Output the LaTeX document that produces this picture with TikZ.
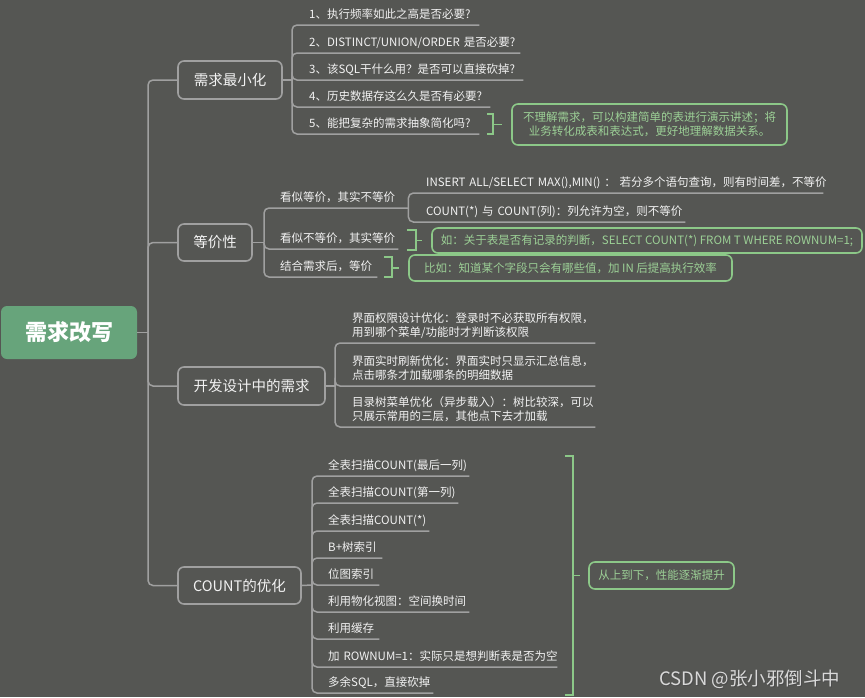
\documentclass[tikz,border=0pt]{standalone}
\usepackage{fontspec}
\setmainfont{Noto Sans CJK SC}
\usetikzlibrary{calc}
\definecolor{bg}{HTML}{555653}
\definecolor{ln}{HTML}{A0A0A0}
\definecolor{tx}{HTML}{F2F2F2}
\definecolor{gr}{HTML}{8CC888}
\definecolor{grt}{HTML}{9CD096}
\definecolor{rootc}{HTML}{67A47B}
\begin{document}
\begin{tikzpicture}[x=1pt,y=-1pt,
  conn/.style={draw=ln, line width=1.5pt, rounded corners=5pt},
  mainbox/.style={draw=ln, line width=1.6pt, rounded corners=6pt, fill=bg, text=tx, font=\fontsize{14.5}{17}\selectfont, inner sep=0pt},
  rootbox/.style={fill=rootc, rounded corners=6pt, text=white, font=\fontsize{22}{26}\selectfont\bfseries, inner sep=0pt, minimum width=136pt, minimum height=53pt},
  itm/.style={anchor=south west, inner xsep=0pt, inner ysep=6.5pt, text depth=0pt, align=left, text=tx, font=\fontsize{11.5}{14}\selectfont},
  twoline/.style={text depth=14pt},
  notebox/.style={draw=gr, line width=1.6pt, rounded corners=6pt, text=grt, align=center, inner sep=0pt, font=\fontsize{11.5}{14.5}\selectfont},
  brk/.style={draw=gr, line width=1.6pt},
]
\useasboundingbox (0,0) rectangle (865,697);
\fill[bg] (0,0) rectangle (865,697);

% root
\node[rootbox] (root) at (69,332.5) {需求改写};
\coordinate (T) at (148,332.5);
\draw[conn] (root.east) -- (T);

% main branches
\node[mainbox, minimum width=104pt, minimum height=38pt] (m1) at (230,80) {需求最小化};
\node[mainbox, minimum width=74pt, minimum height=37pt] (m2) at (215,242.5) {等价性};
\node[mainbox, minimum width=147pt, minimum height=38pt] (m3) at (251.5,386) {开发设计中的需求};
\node[mainbox, minimum width=123pt, minimum height=37pt] (m4) at (239.5,585.5) {COUNT的优化};
\foreach \m in {m1,m2,m3,m4} \draw[conn] (T) |- (\m.west);

% ---- 需求最小化
\coordinate (s1) at (292,80);
\draw[conn] (m1.east) -- (s1);
\node[itm, text width=170pt] (i1) at (309,25) {1、执行频率如此之高是否必要?};
\node[itm, text width=211pt] (i2) at (309,53) {2、DISTINCT/UNION/ORDER 是否必要?};
\node[itm, text width=214pt] (i3) at (309,80) {3、该SQL干什么用？是否可以直接砍掉?};
\node[itm, text width=181pt] (i4) at (309,107) {4、历史数据存这么久是否有必要?};
\node[itm, text width=170pt] (i5) at (309,134) {5、能把复杂的需求抽象简化吗?};
\foreach \i in {i1,i2,i3,i4,i5} \draw[conn] (s1) |- (\i.south east);
\node[notebox, minimum width=275pt, minimum height=41pt] (n5) at (649.5,124.5) {不理解需求，可以构建简单的表进行演示讲述；将\\业务转化成表和表达式，更好地理解数据关系。};
\draw[brk] (487,114) -- (493,114) -- (493,134) -- (487,134);
\coordinate (k5) at (493,124.5);
\draw[brk, shorten >=9pt] (k5) -- (n5.west);

% ---- 等价性
\coordinate (s2) at (264,242.5);
\draw[conn] (m2.east) -- (s2);
\node[itm, text width=128pt] (e1) at (280,208) {看似等价，其实不等价};
\node[itm, text width=118pt] (e2) at (280,249) {看似不等价，其实等价};
\node[itm, text width=97pt] (e3) at (280,277) {结合需求后，等价};
\foreach \i in {e1,e2,e3} \draw[conn] (s2) |- (\i.south east);
\node[itm, text width=397pt] (f1) at (426,193) {\mbox{INSERT ALL/SELECT MAX(),MIN() ： 若分多个语句查询，则有时间差，不等价}};
\node[itm, text width=259pt] (f2) at (426,222) {\mbox{COUNT(*) 与 COUNT(列)：列允许为空，则不等价}};
\foreach \i in {f1,f2} \draw[conn] (e1.south east) |- (\i.south east);
\node[notebox, minimum width=430pt, minimum height=25pt] (n2) at (647,240.5) {如：关于表是否有记录的判断，SELECT COUNT(*) FROM T WHERE ROWNUM=1;};
\draw[brk] (407,230) -- (416,230) -- (416,250) -- (407,250);
\coordinate (k2) at (416,240.5);
\draw[brk, shorten >=9pt] (k2) -- (n2.west);
\node[notebox, minimum width=323pt, minimum height=26pt] (n3) at (570.5,268) {比如：知道某个字段只会有哪些值，加 IN 后提高执行效率};
\draw[brk] (384,257) -- (392,257) -- (392,277) -- (384,277);
\coordinate (k3) at (392,268);
\draw[brk, shorten >=9pt] (k3) -- (n3.west);

% ---- 开发设计中的需求
\coordinate (s3) at (335,386);
\draw[conn] (m3.east) -- (s3);
\node[itm, twoline, text width=243pt] (d1) at (352,343) {界面权限设计优化：登录时不必获取所有权限，\\用到哪个菜单/功能时才判断该权限};
\node[itm, twoline, text width=243pt] (d2) at (352,386) {界面实时刷新优化：界面实时只显示汇总信息，\\点击哪条才加载哪条的明细数据};
\node[itm, twoline, text width=243pt] (d3) at (352,427) {目录树菜单优化（异步载入）：树比较深，可以\\只展示常用的三层，其他点下去才加载};
\foreach \i in {d1,d2,d3} \draw[conn] (s3) |- (\i.south east);

% ---- COUNT的优化
\coordinate (s4) at (312,585);
\draw[conn] (m4.east) -- (s4);
\node[itm, text width=141pt] (c1) at (328,476) {全表扫描COUNT(最后一列)};
\node[itm, text width=130pt] (c2) at (328,503) {全表扫描COUNT(第一列)};
\node[itm, text width=101pt] (c3) at (328,531) {全表扫描COUNT(*)};
\node[itm, text width=54pt] (c4) at (328,558) {B+树索引};
\node[itm, text width=51pt] (c5) at (328,585) {位图索引};
\node[itm, text width=141pt] (c6) at (328,612) {利用物化视图：空间换时间};
\node[itm, text width=51pt] (c7) at (328,639) {利用缓存};
\node[itm, text width=229pt] (c8) at (328,667) {\mbox{加 ROWNUM=1：实际只是想判断表是否为空}};
\node[itm, text width=105pt] (c9) at (328,693) {多余SQL，直接砍掉};
\foreach \i in {c1,c2,c3,c4,c5,c6,c7,c8,c9} \draw[conn] (s4) |- (\i.south east);
\node[notebox, minimum width=145pt, minimum height=27pt] (n4) at (661.5,575.5) {从上到下，性能逐渐提升};
\draw[brk] (565,456) -- (573,456) -- (573,695) -- (565,695);
\coordinate (k4) at (573,575.5);
\draw[brk, shorten >=8pt] (k4) -- (n4.west);

% watermark
\node[anchor=west, inner sep=0pt, text=black!70, font=\fontsize{18.5}{20}\selectfont] (wms) at (660,680) {CSDN @张小邪倒斗中};
\node[anchor=west, inner sep=0pt, text=white!85!black, font=\fontsize{18.5}{20}\selectfont] (wm) at (659,679) {CSDN @张小邪倒斗中};
\end{tikzpicture}
\end{document}
